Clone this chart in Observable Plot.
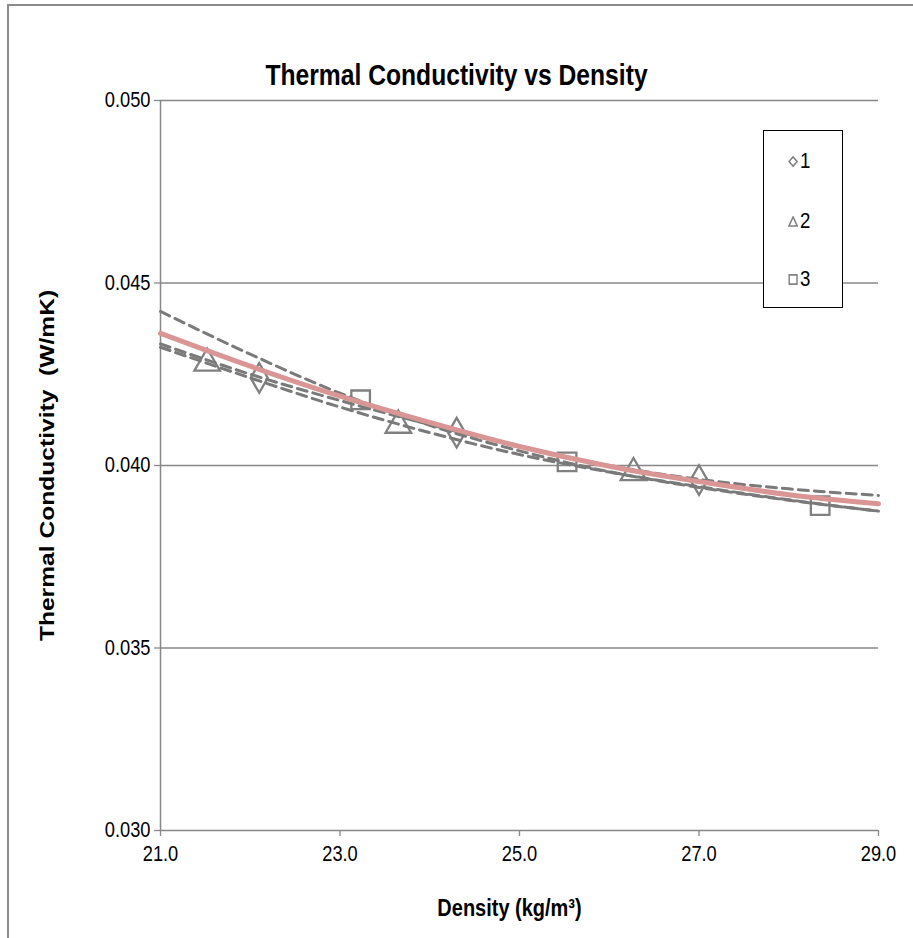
<!DOCTYPE html>
<html>
<head>
<meta charset="utf-8">
<script src="https://cdn.jsdelivr.net/npm/d3@7"></script>
<script src="https://cdn.jsdelivr.net/npm/@observablehq/plot@0.6"></script>
<style>
  html, body { margin: 0; padding: 0; background: #fff; overflow: hidden; }
  #wrap { position: relative; width: 913px; height: 938px; }
  #border { position: absolute; left: 7px; top: 4px; width: 1000px; height: 1000px;
            border-left: 2px solid #8c8c8c; border-top: 2px solid #8c8c8c; pointer-events: none; }
  #legend { position: absolute; left: 763px; top: 130px; width: 78px; height: 176px;
            border: 1px solid #000; background: #fff;
            font-family: "Liberation Sans", Arial, sans-serif; font-size: 22px; }
  .row { position: absolute; left: 24px; height: 24px; display: flex; align-items: center;
         transform: scaleX(0.85); transform-origin: left center; }
  .row svg { margin-right: 2px; }
</style>
</head>
<body>
<div id="wrap">
  <div id="chart"></div>
  <div id="border"></div>
  <div id="legend"></div>
</div>
<script>
// ---- data ----
const seriesNames = ["1", "2", "3"];
const density1 = [22.1, 24.3, 27.0];
const cond1    = [0.0424, 0.0409, 0.0396];
const density2 = [21.52, 23.65, 26.27];
const cond2    = [0.0428, 0.0411, 0.0398];
const density3 = [23.23, 25.53, 28.35];
const cond3    = [0.0418, 0.0401, 0.0389];

// trend lines
const trendX   = [21, 22, 23, 24, 25, 26, 27, 28, 29];
const trend1   = [0.04333, 0.04250, 0.04178, 0.04112, 0.04052, 0.04000, 0.03962, 0.03936, 0.03918];
const trend2   = [0.04324, 0.04240, 0.04160, 0.04090, 0.04030, 0.03982, 0.03942, 0.03906, 0.03875];
const trend3   = [0.04422, 0.04305, 0.04198, 0.04110, 0.04040, 0.03983, 0.03940, 0.03905, 0.03875];
const trendAll = [0.04362, 0.04272, 0.04190, 0.04118, 0.04052, 0.03998, 0.03956, 0.03920, 0.03895];

const xTicks = [21, 23, 25, 27, 29];
const yTicks = [0.030, 0.035, 0.040, 0.045, 0.050];

const titleText = "Thermal Conductivity vs Density";
const xLabel = "Density (kg/m³)";
const yLabel = "Thermal Conductivity  (W/mK)";

// ---- build tables ----
const pts = (xs, ys) => xs.map((x, i) => ({x, y: ys[i]}));
const s1 = pts(density1, cond1), s2 = pts(density2, cond2), s3 = pts(density3, cond3);
const t1 = pts(trendX, trend1), t2 = pts(trendX, trend2), t3 = pts(trendX, trend3), tAll = pts(trendX, trendAll);

const gray = "#808080";
const axisGray = "#888888";
const dashGray = "#7a7a7a";
const dash = "10,6";

const chart = Plot.plot({
  width: 913, height: 938,
  marginLeft: 160, marginRight: 35, marginTop: 100, marginBottom: 108,
  style: { fontFamily: "'Liberation Sans', Arial, sans-serif", fontSize: "21.5px", color: "#000", background: "transparent" },
  x: { domain: [21, 29], label: null },
  y: { domain: [0.030, 0.050], label: null },
  marks: [
    Plot.ruleY(yTicks, { stroke: axisGray, strokeWidth: 1.3 }),
    Plot.ruleX([21], { stroke: axisGray, strokeWidth: 1.5 }),
    Plot.axisY(yTicks, { tickSize: 6, tickPadding: 4, tickFormat: d3.format(".3f"), stroke: axisGray, fill: "#000", strokeWidth: 1.3, fontSize: 21.5, label: null }),
    Plot.axisX(xTicks, { tickSize: 6, tickPadding: 9, tickFormat: d3.format(".1f"), stroke: axisGray, fill: "#000", strokeWidth: 1.3, fontSize: 21.5, label: null }),
    // markers
    Plot.dot(s1, { x: "x", y: "y", symbol: "diamond", r: 9, stroke: gray, strokeWidth: 2.3, fill: "none" }),
    Plot.dot(s2, { x: "x", y: "y", symbol: "triangle", r: 9.5, stroke: gray, strokeWidth: 2.3, fill: "none" }),
    Plot.dot(s3, { x: "x", y: "y", symbol: "square", r: 10.5, stroke: gray, strokeWidth: 2.3, fill: "none" }),
    // trend lines
    Plot.line(t1, { x: "x", y: "y", curve: "monotone-x", stroke: dashGray, strokeWidth: 3, strokeDasharray: dash }),
    Plot.line(t2, { x: "x", y: "y", curve: "monotone-x", stroke: dashGray, strokeWidth: 3, strokeDasharray: dash }),
    Plot.line(t3, { x: "x", y: "y", curve: "monotone-x", stroke: dashGray, strokeWidth: 3, strokeDasharray: dash }),
    Plot.line(tAll, { x: "x", y: "y", curve: "monotone-x", stroke: "#d99694", strokeWidth: 5 }),
    // titles
    Plot.text([titleText], { frameAnchor: "top", dx: -63, dy: -25, textAnchor: "middle", lineAnchor: "middle", fontWeight: "bold", fontSize: 29, fill: "#000" }),
    Plot.text([xLabel], { frameAnchor: "bottom", dx: -10, dy: 78, textAnchor: "middle", lineAnchor: "middle", fontWeight: "bold", fontSize: 23.5, fill: "#000" }),
    Plot.text([yLabel], { frameAnchor: "left", dx: -113, rotate: -90, textAnchor: "middle", lineAnchor: "middle", fontWeight: "bold", fontSize: 20, fill: "#000" })
  ]
});
document.getElementById("chart").appendChild(chart);

// the reference glyphs are tall and narrow: squeeze horizontal texts, stretch the vertical one
chart.querySelectorAll("text").forEach(t => {
  const L = t.getComputedTextLength();
  if (!(L > 0)) return;
  let rotated = false;
  for (let p = t; p && p !== chart; p = p.parentNode) {
    const tr = p.getAttribute && p.getAttribute("transform");
    if (tr && /rotate/.test(tr)) rotated = true;
  }
  t.setAttribute("lengthAdjust", "spacingAndGlyphs");
  t.setAttribute("textLength", (rotated ? L * 1.23 : L * 0.85).toFixed(2));
});

// ---- legend ----
const legend = document.getElementById("legend");
const legendSymbols = [
  '<polygon points="5.5,0.8 10.2,5.5 5.5,10.2 0.8,5.5" fill="none" stroke="#808080" stroke-width="1.7"/>',
  '<polygon points="5.5,0.9 10.4,10 0.6,10" fill="none" stroke="#808080" stroke-width="1.7"/>',
  '<rect x="0.9" y="0.9" width="9.2" height="9.2" fill="none" stroke="#808080" stroke-width="1.7"/>'
];
const rowTops = [18, 78, 136];
seriesNames.forEach((name, i) => {
  const row = document.createElement("div");
  row.className = "row";
  row.style.top = rowTops[i] + "px";
  row.innerHTML = '<svg width="12" height="11" viewBox="0 0 11 11">' + legendSymbols[i] + '</svg><span>' + name + '</span>';
  legend.appendChild(row);
});
</script>
</body>
</html>
